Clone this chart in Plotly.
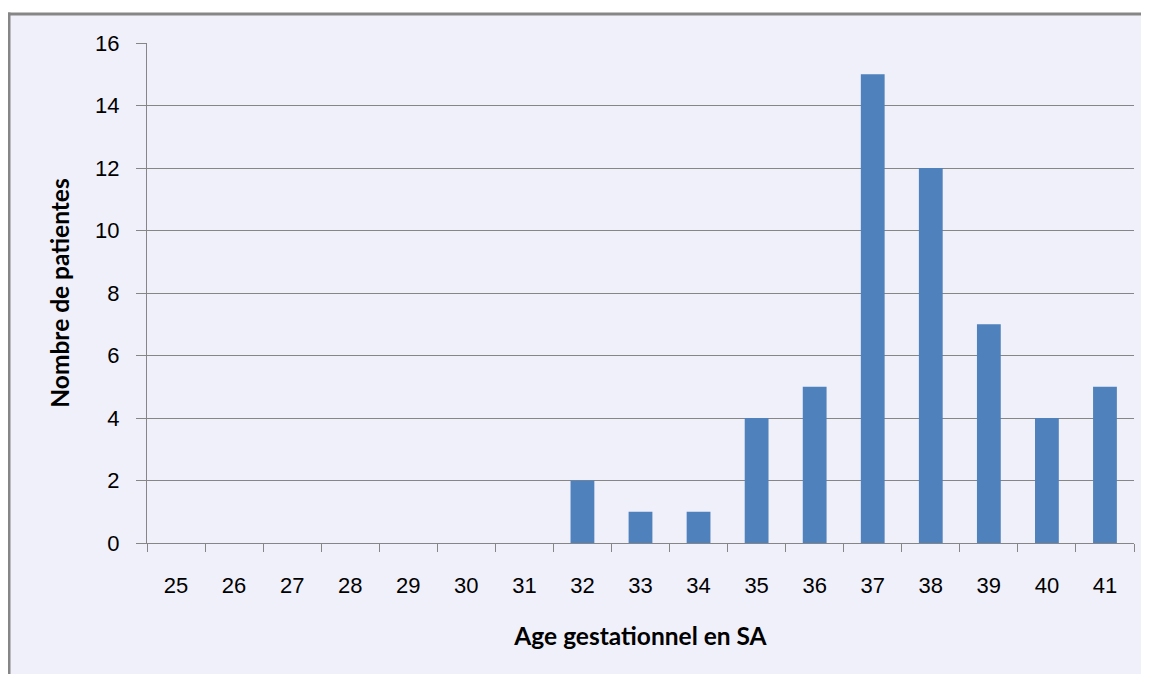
import plotly.graph_objects as go

weeks = ["25", "26", "27", "28", "29", "30", "31", "32", "33", "34", "35", "36", "37", "38", "39", "40", "41"]
patients = [0, 0, 0, 0, 0, 0, 0, 2, 1, 1, 4, 5, 15, 12, 7, 4, 5]
y_ticks = [0, 2, 4, 6, 8, 10, 12, 14, 16]

# target pixel geometry of the plot area (screen coordinates)
L, R, T, B = 147, 1134, 43, 543
OFF = 8  # page body margin
W, H = 1149 - OFF, 674 - OFF
pw, ph = R - L, B - T

def fx(px):
    return (px - L) / pw

def fy(py):
    return (B - py) / ph

bg = "#F0F0FB"
grey = "#868686"

fig = go.Figure(go.Bar(x=weeks, y=patients, marker=dict(color="#4F81BD", line=dict(width=0)), width=0.41))

# white strip above the chart frame, then the frame's top and left edges
fig.add_shape(type="rect", xref="paper", yref="paper",
              x0=fx(0), x1=fx(1200), y0=fy(13), y1=fy(0),
              line=dict(width=0), fillcolor="white", layer="below")
fig.add_shape(type="line", xref="paper", yref="paper",
              x0=fx(7.5), x1=fx(1200), y0=fy(14), y1=fy(14),
              line=dict(color=grey, width=3), layer="below")
fig.add_shape(type="line", xref="paper", yref="paper",
              x0=fx(9), x1=fx(9), y0=fy(720), y1=fy(12.5),
              line=dict(color=grey, width=3), layer="below")

fig.update_layout(
    width=W, height=H,
    margin=dict(l=L - OFF, r=W + OFF - R, t=T - OFF, b=H + OFF - B),
    paper_bgcolor=bg, plot_bgcolor=bg,
    showlegend=False,
    font=dict(family="Liberation Sans", size=22, color="#000000"),
)
fig.update_xaxes(
    type="category", tickson="boundaries", ticks="outside", ticklen=8, tickcolor=grey, tickwidth=1,
    showline=True, linecolor=grey, linewidth=1, showgrid=False,
    tickfont=dict(family="Liberation Sans", size=22), ticklabelstandoff=23,
    title=dict(text="Age gestationnel en SA", font=dict(family="Lato", size=24.5, color="#000", weight="bold"), standoff=30),
)
fig.update_yaxes(
    range=[0, 16], tickvals=y_ticks, ticks="outside", ticklen=10, tickcolor=grey, tickwidth=1,
    showline=True, linecolor=grey, linewidth=1, showgrid=True, gridcolor=grey, gridwidth=1,
    zeroline=False,
    tickfont=dict(family="Liberation Sans", size=22), ticklabelstandoff=12,
    title=dict(text="Nombre de patientes", font=dict(family="Lato", size=24.5, color="#000", weight="bold"), standoff=18),
)

fig.write_html("out.html")
